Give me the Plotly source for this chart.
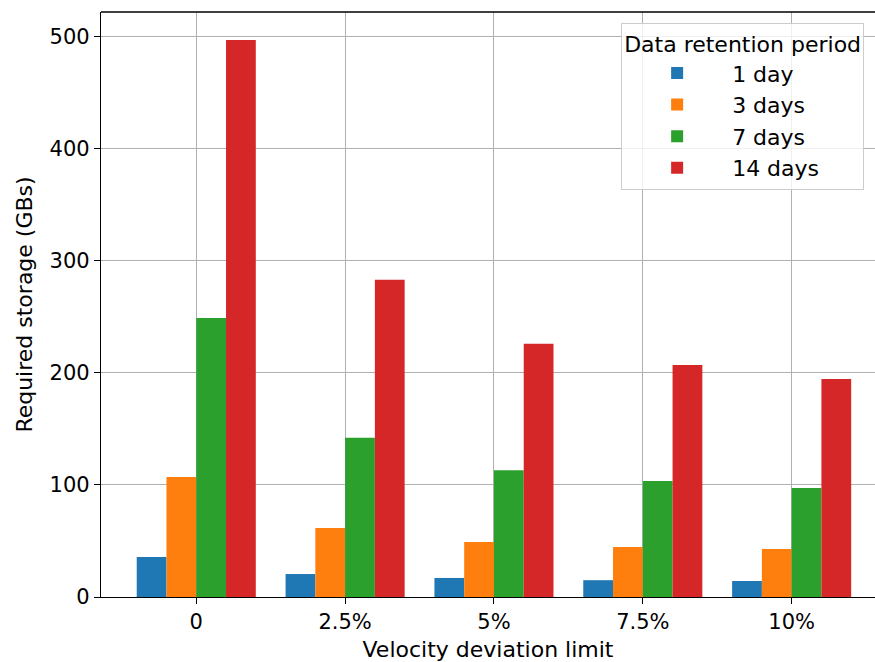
import plotly.graph_objects as go

categories = ["0", "2.5%", "5%", "7.5%", "10%"]
series_names = ["1 day", "3 days", "7 days", "14 days"]
day1 = [35.7, 20.5, 17.0, 15.0, 14.3]
days3 = [107, 61.6, 49, 44.6, 42.9]
days7 = [249, 142, 113, 103.6, 97.3]
days14 = [497, 283, 226, 207, 194.6]
colors = ["#1f77b4", "#ff7f0e", "#2ca02c", "#d62728"]

x = list(range(len(categories)))
fig = go.Figure()
for name, vals, c in zip(series_names, [day1, days3, days7, days14], colors):
    fig.add_trace(go.Bar(x=x, y=vals, name=name, marker=dict(color=c, line=dict(width=0))))

font = dict(family="DejaVu Sans", size=22, color="black")
tickfont = dict(family="DejaVu Sans", size=21, color="black")
fig.update_layout(
    width=875, height=662,
    paper_bgcolor="white", plot_bgcolor="white",
    margin=dict(l=101, r=0, t=12, b=65, autoexpand=False),
    barmode="group", bargap=0.2, bargroupgap=0,
    font=font,
    legend=dict(
        title=dict(text="Data retention period", font=font),
        font=font,
        x=0.672, xanchor="left", y=0.982, yanchor="top",
        bgcolor="rgba(255,255,255,0.8)", bordercolor="#cccccc", borderwidth=1,
        tracegroupgap=0, itemwidth=100,
    ),
    xaxis=dict(
        tickmode="array", tickvals=x, ticktext=categories, tickfont=tickfont,
        range=[-0.64, 4.56],
        showgrid=True, gridcolor="#b0b0b0", gridwidth=1,
        showline=True, linecolor="black", linewidth=1.3,
        ticks="outside", ticklen=6, tickcolor="black",
        title=dict(text="Velocity deviation limit", font=font, standoff=8),
        zeroline=False, automargin=False,
    ),
    yaxis=dict(
        range=[0, 522], tickfont=tickfont,
        tickvals=[0, 100, 200, 300, 400, 500],
        showgrid=True, gridcolor="#b0b0b0", gridwidth=1,
        showline=True, linecolor="black", linewidth=1.3,
        ticks="outside", ticklen=6, tickcolor="black",
        title=dict(text="Required storage (GBs)", font=font, standoff=10),
        zeroline=False, automargin=False,
    ),
    shapes=[dict(type="line", xref="paper", yref="paper", x0=0, x1=1, y0=1, y1=1,
                 line=dict(color="black", width=1.3))],
)
fig.write_html("out.html", config={"displayModeBar": False},
               post_script="document.body.style.margin='0';document.body.style.padding='0';")
